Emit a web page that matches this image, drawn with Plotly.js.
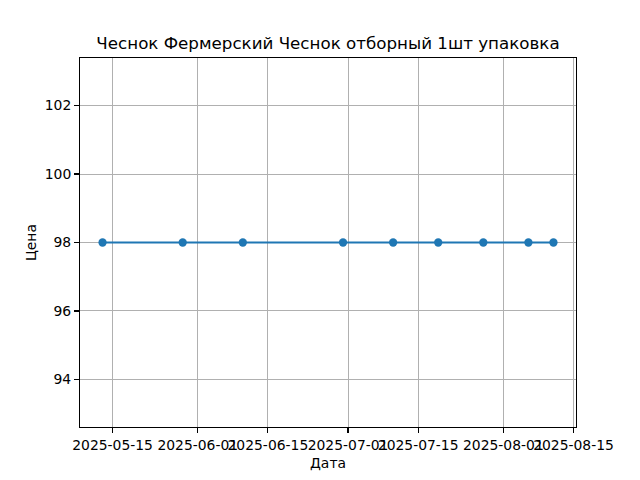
<!DOCTYPE html>
<html>
<head>
<meta charset="utf-8">
<script src="https://cdn.plot.ly/plotly-3.0.1.min.js"></script>
<style>html,body{margin:0;padding:0;background:#fff;}#chart{width:640px;height:480px;}</style>
</head>
<body>
<div id="chart"></div>
<script>
const dates = ["2025-05-13","2025-05-29","2025-06-10","2025-06-30","2025-07-10","2025-07-19","2025-07-28","2025-08-06","2025-08-11"];
const prices = [98,98,98,98,98,98,98,98,98];
const xTickVals = ["2025-05-15","2025-06-01","2025-06-15","2025-07-01","2025-07-15","2025-08-01","2025-08-15"];
const yTickVals = [94,96,98,100,102];
const titleText = "Чеснок Фермерский Чеснок отборный 1шт упаковка";
const xLabel = "Дата";
const yLabel = "Цена";

const font = "DejaVu Sans, sans-serif";
const trace = {
  x: dates, y: prices, type: "scatter", mode: "lines+markers",
  line: {color: "#1f77b4", width: 2.08},
  marker: {color: "#1f77b4", size: 8.3},
  hoverinfo: "skip"
};
const axisCommon = {
  showline: true, mirror: true, linecolor: "#000", linewidth: 1.1,
  ticks: "outside", ticklen: 4.9, tickwidth: 1.1, tickcolor: "#000",
  showgrid: true, gridcolor: "#b0b0b0", gridwidth: 1,
  zeroline: false,
  tickfont: {family: font, size: 13.9, color: "#000"}
};
const layout = {
  width: 640, height: 480,
  paper_bgcolor: "#fff", plot_bgcolor: "#fff",
  margin: {l: 80, r: 64, t: 57.6, b: 52.8},
  showlegend: false,
  font: {family: font, color: "#000"},
  title: {text: titleText, font: {family: font, size: 16.7, color: "#000"},
          x: 0.5, xref: "paper", xanchor: "center", y: 1, yref: "paper", yanchor: "bottom", pad: {b: 9}},
  xaxis: Object.assign({}, axisCommon, {
    type: "date",
    range: ["2025-05-08 12:00", "2025-08-15 12:00"],
    tickmode: "array", tickvals: xTickVals, ticktext: xTickVals,
    tickangle: 0,
    title: {text: xLabel, font: {family: font, size: 13.9, color: "#000"}, standoff: 6}
  }),
  yaxis: Object.assign({}, axisCommon, {
    range: [92.61, 103.39],
    tickmode: "array", tickvals: yTickVals, ticktext: yTickVals.map(String),
    title: {text: yLabel, font: {family: font, size: 13.9, color: "#000"}, standoff: 4}
  })
};
Plotly.newPlot("chart", [trace], layout, {staticPlot: true, displayModeBar: false});
</script>
</body>
</html>
